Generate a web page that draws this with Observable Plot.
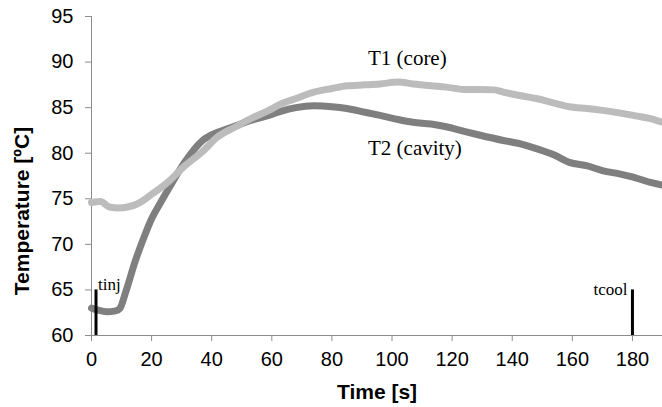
<!DOCTYPE html>
<html>
<head>
<meta charset="utf-8">
<script src="https://cdn.jsdelivr.net/npm/d3@7"></script>
<script src="https://cdn.jsdelivr.net/npm/@observablehq/plot@0.6"></script>
<style>
  html, body { margin: 0; padding: 0; background: #fff; }
  #chart { width: 662px; height: 407px; }
</style>
</head>
<body>
<div id="chart"></div>
<script>
// Series T1 (core)
const t1Time = [0, 3, 6, 9, 12, 15, 18, 20, 23, 26, 31, 37, 42, 48, 53, 59, 63, 68, 74, 80, 85, 91, 96, 102, 107, 113, 118, 124, 129, 134, 137, 143, 148, 154, 159, 165, 170, 176, 181, 186, 190];
const t1Temp = [74.6, 74.7, 74.1, 74.0, 74.1, 74.4, 75.0, 75.5, 76.2, 77.0, 78.6, 80.2, 81.8, 82.9, 83.8, 84.7, 85.4, 86.0, 86.7, 87.1, 87.4, 87.5, 87.6, 87.8, 87.6, 87.4, 87.25, 87.0, 87.0, 86.95, 86.7, 86.3, 86.0, 85.5, 85.1, 84.9, 84.7, 84.4, 84.1, 83.8, 83.4];

// Series T2 (cavity)
const t2Time = [0, 2, 5, 8, 9.5, 11.5, 14.5, 17.5, 20, 23, 26, 31, 37, 42, 48, 53, 59, 63, 68, 74, 80, 85, 91, 96, 102, 107, 113, 118, 124, 129, 137, 143, 148, 154, 159, 165, 170, 176, 181, 186, 190];
const t2Temp = [63.0, 62.8, 62.6, 62.7, 63.0, 64.9, 68.1, 70.8, 72.8, 74.6, 76.3, 79.0, 81.4, 82.3, 83.0, 83.6, 84.15, 84.6, 85.0, 85.2, 85.1, 84.9, 84.5, 84.15, 83.7, 83.4, 83.2, 82.9, 82.4, 82.0, 81.4, 81.0, 80.5, 79.8, 79.0, 78.6, 78.1, 77.7, 77.3, 76.8, 76.5];

// Event markers
const markerTime = [1.5, 180];
const markerLabel = ["tinj", "tcool"];
const markerTop = 65;

// Series labels
const seriesLabel = ["T1 (core)", "T2 (cavity)"];
const seriesLabelTime = [92, 92];
const seriesLabelTemp = [90.4, 80.5];

// Axis ticks
const xTicks = [0, 20, 40, 60, 80, 100, 120, 140, 160, 180];
const yTicks = [60, 65, 70, 75, 80, 85, 90, 95];

const t1 = t1Time.map((t, i) => ({t, v: t1Temp[i]}));
const t2 = t2Time.map((t, i) => ({t, v: t2Temp[i]}));
const markers = markerTime.map((t, i) => ({t, label: markerLabel[i]}));
const labels = seriesLabel.map((s, i) => ({s, t: seriesLabelTime[i], v: seriesLabelTemp[i]}));

const axisGray = "#8c8c8c";
const serif = "Liberation Serif, Times New Roman, serif";

const chart = Plot.plot({
  width: 662,
  height: 407,
  marginLeft: 91,
  marginRight: 0,
  marginTop: 16,
  marginBottom: 72,
  style: {fontFamily: "Liberation Sans, Arial, sans-serif", background: "#fff"},
  x: {domain: [0, 190]},
  y: {domain: [60, 95]},
  marks: [
    Plot.ruleX([0], {stroke: axisGray, strokeWidth: 1}),
    Plot.ruleY([60], {stroke: axisGray, strokeWidth: 1}),
    Plot.axisX({ticks: xTicks, tickSize: 6, tickPadding: 10, stroke: axisGray, fontSize: 20, color: "#000", label: null}),
    Plot.axisY({ticks: yTicks, tickSize: 6, tickPadding: 12, stroke: axisGray, fontSize: 20, color: "#000", label: null}),
    Plot.line(t2, {x: "t", y: "v", stroke: "#7f7f7f", strokeWidth: 7, curve: "monotone-x"}),
    Plot.line(t1, {x: "t", y: "v", stroke: "#bcbcbc", strokeWidth: 7, curve: "monotone-x"}),
    Plot.ruleX(markers, {x: "t", y1: 60, y2: markerTop, stroke: "#000", strokeWidth: 3}),
    Plot.text(markers.filter(d => d.label === "tinj"), {x: "t", y: markerTop, text: "label", textAnchor: "start", dx: 2, dy: -5, fontSize: 17, fontFamily: serif, fill: "#000"}),
    Plot.text(markers.filter(d => d.label === "tcool"), {x: "t", y: markerTop, text: "label", textAnchor: "end", dx: -5, dy: 0, fontSize: 17, fontFamily: serif, fill: "#000"}),
    Plot.text(labels, {x: "t", y: "v", text: "s", textAnchor: "start", fontSize: 21, fontFamily: serif, fill: "#000"}),
    Plot.text(["Temperature [ºC]"], {frameAnchor: "left", textAnchor: "middle", rotate: -90, dx: -69, dy: 35, fontSize: 21, fontWeight: "bold", fill: "#000"}),
    Plot.text(["Time [s]"], {frameAnchor: "bottom", dy: 63, fontSize: 21, fontWeight: "bold", fill: "#000"})
  ]
});

document.getElementById("chart").appendChild(chart);
</script>
</body>
</html>
